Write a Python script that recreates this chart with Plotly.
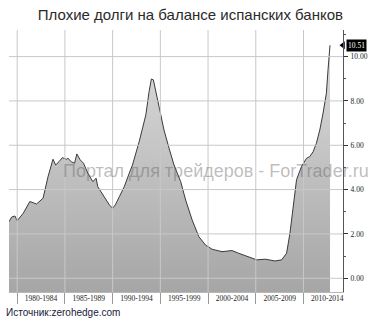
import plotly.graph_objects as go

# --- data ---
years = [1979.14, 1979.42, 1979.76, 1980.00, 1980.63, 1981.32, 1981.67, 1982.02,
         1982.71, 1983.23, 1983.75, 1984.03, 1984.38, 1984.73, 1985.15, 1985.31,
         1985.67, 1986.01, 1986.25, 1986.60, 1986.95, 1987.40, 1987.92, 1988.27,
         1988.44, 1988.96, 1989.31, 1989.66, 1990.00, 1990.28, 1990.70, 1991.22,
         1991.74, 1992.08, 1992.78, 1993.48, 1993.82, 1994.06, 1994.27, 1994.52,
         1994.86, 1995.38, 1995.91, 1996.43, 1997.13, 1997.65, 1998.33, 1999.03,
         1999.73, 2000.42, 2001.46, 2002.50, 2003.20, 2004.24, 2005.10, 2005.98,
         2007.02, 2007.71, 2008.23, 2008.58, 2008.93, 2009.27, 2009.79, 2010.31,
         2010.66, 2011.01, 2011.35, 2011.71, 2012.05, 2012.40, 2012.57, 2012.78]
values = [2.55, 2.76, 2.81, 2.60, 2.93, 3.46, 3.41, 3.35,
          3.61, 4.58, 5.37, 5.11, 5.26, 5.44, 5.37, 5.41,
          5.26, 5.19, 5.61, 5.34, 5.19, 4.74, 4.36, 4.51,
          4.13, 3.76, 3.53, 3.31, 3.16, 3.31, 3.68, 4.13,
          4.74, 5.11, 6.16, 7.37, 8.42, 8.99, 8.95, 8.42,
          7.67, 6.69, 5.87, 5.11, 4.36, 3.53, 2.63, 1.88,
          1.50, 1.31, 1.20, 1.25, 1.13, 0.97, 0.83, 0.86,
          0.78, 0.83, 1.13, 2.03, 3.23, 4.44, 5.04, 5.41,
          5.49, 5.71, 6.09, 6.69, 7.45, 8.35, 9.40, 10.51]
period_starts = [1980, 1985, 1990, 1995, 2000, 2005, 2010]
period_labels = ["1980-1984", "1985-1989", "1990-1994", "1995-1999",
                 "2000-2004", "2005-2009", "2010-2014"]
y_ticks = [0, 2, 4, 6, 8, 10]
x_range = [1979.14, 2014.14]
y_range = [-0.62, 11.2]

title_text = "Плохие долги на балансе испанских банков"
watermark = "Портал для трейдеров - ForTrader.ru"
source_text = "Источник:zerohedge.com"

fig = go.Figure()

# baseline at bottom of plot for fill
fig.add_trace(go.Scatter(x=[years[0], years[-1]], y=[y_range[0], y_range[0]],
                         mode="lines", line=dict(width=0), hoverinfo="skip",
                         showlegend=False))
fig.add_trace(go.Scatter(x=years, y=values, mode="lines",
                         line=dict(color="#3a3a3a", width=1),
                         fill="tonexty",
                         fillgradient=dict(type="vertical",
                                           colorscale=[[0, "#a6a6a6"], [1, "#dcdcdc"]],
                                           start=y_range[0], stop=max(values)),
                         showlegend=False, hoverinfo="skip"))
# grid lines drawn as line traces over the fill
grid_style = dict(color="#c8c8c8", width=1)
for v in y_ticks:
    fig.add_trace(go.Scatter(x=x_range, y=[v, v], mode="lines", line=grid_style,
                             showlegend=False, hoverinfo="skip"))
for s in period_starts:
    fig.add_trace(go.Scatter(x=[s, s], y=y_range, mode="lines", line=grid_style,
                             showlegend=False, hoverinfo="skip"))
# last value marker (arrow of label)
fig.add_trace(go.Scatter(x=[x_range[1]], y=[values[-1]], mode="markers",
                         marker=dict(symbol="triangle-left", size=7, color="black"),
                         cliponaxis=False, showlegend=False, hoverinfo="skip"))
# invisible trace on label axis
fig.add_trace(go.Scatter(x=[years[0]], y=[values[0]], xaxis="x2", mode="markers",
                         marker=dict(opacity=0), showlegend=False, hoverinfo="skip"))

tick_font = dict(family="Liberation Serif", size=7.5, color="#222")

fig.update_layout(
    width=377, height=322,
    margin=dict(l=9, r=32, t=30, b=30),
    paper_bgcolor="white", plot_bgcolor="white",
    title=dict(text=title_text, x=0.505, xref="container", xanchor="center",
               y=1 - 15 / 322, yref="container", yanchor="middle",
               font=dict(family="Liberation Sans", size=15, color="#2a2a2a")),
    xaxis=dict(range=x_range, tickvals=period_starts,
               ticktext=[""] * len(period_starts),
               ticks="outside", ticklen=11, tickcolor="#9a9a9a", tickwidth=1,
               showgrid=False, zeroline=False, showline=True, linecolor="#b8b8b8",
               linewidth=1, fixedrange=True),
    xaxis2=dict(range=x_range, overlaying="x", side="bottom", anchor="y",
                tickvals=[s + 2.5 for s in period_starts], ticktext=period_labels,
                ticks="", showgrid=False, zeroline=False, showline=False,
                tickfont=tick_font),
    yaxis=dict(range=y_range, side="right", tickvals=y_ticks,
               ticktext=[f"{v:.2f}" for v in y_ticks],
               ticks="outside", ticklen=4, tickcolor="#333", tickwidth=1,
               minor=dict(dtick=1, tick0=0, ticks="outside", ticklen=2,
                          tickcolor="#555", showgrid=False),
               showgrid=False, zeroline=False, showline=True, linecolor="#555",
               linewidth=1, tickfont=tick_font, ticklabelstandoff=1),
    annotations=[
        dict(text=f"{values[-1]:.2f}", xref="x domain", x=1, xanchor="left", xshift=3,
             yref="y", y=values[-1], yanchor="middle", showarrow=False,
             bgcolor="black", borderpad=1,
             font=dict(family="Liberation Serif", size=7.5, color="white")),
        dict(text=watermark, xref="paper", x=0.62, xanchor="center",
             yref="paper", y=0.462, yanchor="middle", showarrow=False,
             font=dict(family="Liberation Sans", size=18, color="rgba(95,95,95,0.42)")),
        dict(text=source_text, xref="paper", x=-0.015, xanchor="left",
             yref="paper", y=-0.08, yanchor="middle", showarrow=False,
             font=dict(family="Liberation Sans", size=10, color="#20203a")),
    ],
)

fig.write_html("out.html")
